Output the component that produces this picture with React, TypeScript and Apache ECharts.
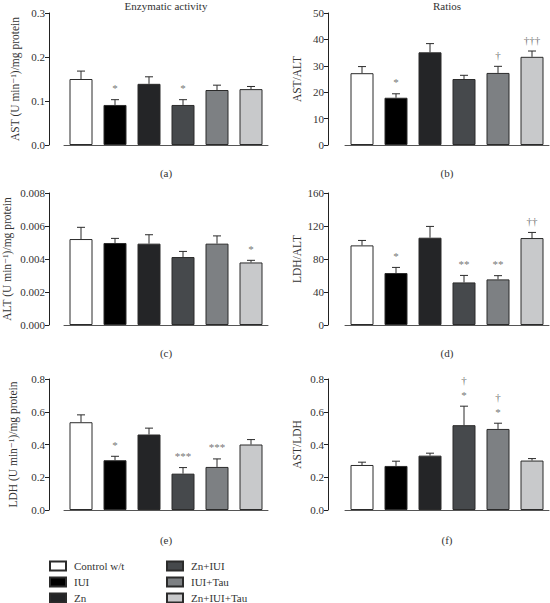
import React, { useEffect, useRef } from "react";
import * as echarts from "echarts";

const groups = ["Control w/t", "IUI", "Zn", "Zn+IUI", "IUI+Tau", "Zn+IUI+Tau"];
const groupColors = ["#ffffff", "#000000", "#242527", "#46494c", "#7d8083", "#c8c9cb"];

// (a) AST
const astMean = [0.15, 0.091, 0.139, 0.091, 0.125, 0.127];
const astSem = [0.018, 0.012, 0.016, 0.012, 0.011, 0.006];
const astMarks = ["", "*", "", "*", "", ""];
// (b) AST/ALT
const astAltMean = [27.2, 17.9, 35.1, 25.0, 27.3, 33.4];
const astAltSem = [2.5, 1.5, 3.3, 1.4, 2.5, 2.2];
const astAltMarks = ["", "*", "", "", "†", "†††"];
// (c) ALT
const altMean = [0.00521, 0.00497, 0.00493, 0.00412, 0.00493, 0.00379];
const altSem = [0.00071, 0.00028, 0.00054, 0.00034, 0.00047, 0.00013];
const altMarks = ["", "", "", "", "", "*"];
// (d) LDH/ALT
const ldhAltMean = [96.5, 63, 105.8, 51.6, 55.3, 105.4];
const ldhAltSem = [6, 6.8, 13.7, 8.5, 4.5, 6.8];
const ldhAltMarks = ["", "*", "", "**", "**", "††"];
// (e) LDH
const ldhMean = [0.536, 0.304, 0.461, 0.222, 0.263, 0.4];
const ldhSem = [0.045, 0.024, 0.039, 0.037, 0.049, 0.03];
const ldhMarks = ["", "*", "", "***", "***", ""];
// (f) AST/LDH
const astLdhMean = [0.275, 0.269, 0.332, 0.518, 0.495, 0.302];
const astLdhSem = [0.017, 0.029, 0.015, 0.116, 0.035, 0.012];
const astLdhMarks = ["", "", "", "†\n*", "†\n*", ""];

const FONT = "Liberation Serif, DejaVu Serif, serif";
const TXT = "#333";
const MARK = "#777";

type Panel = {
  mean: number[];
  sem: number[];
  marks: string[];
  max: number;
  interval: number;
  digits: number;
  yName: string;
  xName: string;
  left: number;
  top: number;
  height: number;
  yOffset: number;
  xOffset: number;
  yNameGap: number;
};

const panels: Panel[] = [
  { mean: astMean, sem: astSem, marks: astMarks, max: 0.3, interval: 0.1, digits: 1, yName: "AST (U min⁻¹)/mg protein", xName: "(a)", left: 64, top: 13, height: 132, yOffset: 15, xOffset: 14, yNameGap: 28 },
  { mean: astAltMean, sem: astAltSem, marks: astAltMarks, max: 50, interval: 10, digits: 0, yName: "AST/ALT", xName: "(b)", left: 345, top: 13, height: 132, yOffset: 17, xOffset: 14, yNameGap: 25 },
  { mean: altMean, sem: altSem, marks: altMarks, max: 0.008, interval: 0.002, digits: 3, yName: "ALT (U min⁻¹)/mg protein", xName: "(c)", left: 64, top: 193, height: 132, yOffset: 15, xOffset: 14, yNameGap: 36 },
  { mean: ldhAltMean, sem: ldhAltSem, marks: ldhAltMarks, max: 160, interval: 40, digits: 0, yName: "LDH/ALT", xName: "(d)", left: 345, top: 193, height: 132, yOffset: 17, xOffset: 14, yNameGap: 25 },
  { mean: ldhMean, sem: ldhSem, marks: ldhMarks, max: 0.8, interval: 0.2, digits: 1, yName: "LDH (U min⁻¹)/mg protein", xName: "(e)", left: 64, top: 379, height: 131, yOffset: 15, xOffset: 16, yNameGap: 30 },
  { mean: astLdhMean, sem: astLdhSem, marks: astLdhMarks, max: 0.8, interval: 0.2, digits: 1, yName: "AST/LDH", xName: "(f)", left: 345, top: 379, height: 131, yOffset: 17, xOffset: 16, yNameGap: 25 },
];

export default function App() {
  const ref = useRef<HTMLDivElement>(null);
  useEffect(() => {
    if (!ref.current) return;
    const chart = echarts.init(ref.current, null, { renderer: "svg" });

    const grids: any[] = [];
    const xAxes: any[] = [];
    const yAxes: any[] = [];
    const series: any[] = [];

    panels.forEach((p, k) => {
      grids.push({ left: p.left, top: p.top, width: 204, height: p.height });
      xAxes.push({
        gridIndex: k,
        type: "category",
        data: groups,
        offset: p.xOffset,
        axisLine: { lineStyle: { color: "#555", width: 1 } },
        axisTick: { alignWithLabel: true, length: 4, lineStyle: { color: "#555" } },
        axisLabel: { show: false },
        name: p.xName,
        nameLocation: "middle",
        nameGap: 8,
        nameTextStyle: { fontFamily: FONT, fontSize: 11, color: TXT, verticalAlign: "top" },
      });
      yAxes.push({
        gridIndex: k,
        type: "value",
        min: 0,
        max: p.max,
        interval: p.interval,
        offset: p.yOffset,
        splitLine: { show: false },
        axisLine: { show: true, lineStyle: { color: "#222", width: 1 } },
        axisTick: { show: true, length: 4, lineStyle: { color: "#222" } },
        axisLabel: {
          fontFamily: FONT,
          fontSize: 11,
          color: TXT,
          margin: 4,
          formatter: (v: number) => v.toFixed(p.digits),
        },
        name: p.yName,
        nameLocation: "middle",
        nameRotate: 90,
        nameGap: p.yNameGap,
        nameTextStyle: { fontFamily: FONT, fontSize: 11.5, color: TXT },
      });
      series.push({
        type: "bar",
        xAxisIndex: k,
        yAxisIndex: k,
        barWidth: 23,
        data: p.mean.map((v, i) => ({
          value: v,
          itemStyle: { color: groupColors[i], borderColor: "#2b2b2b", borderWidth: 1 },
        })),
      });
      series.push({
        type: "custom",
        xAxisIndex: k,
        yAxisIndex: k,
        clip: false,
        z: 5,
        itemStyle: { color: MARK },
        data: p.mean.map((v, i) => [i, v, v + p.sem[i]]),
        renderItem: (params: any, api: any) => {
          const i = api.value(0);
          const base = api.coord([i, api.value(1)]);
          const top = api.coord([i, api.value(2)]);
          const children: any[] = [
            { type: "line", shape: { x1: top[0], y1: base[1], x2: top[0], y2: top[1] }, style: { stroke: "#2b2b2b", lineWidth: 1 } },
            { type: "line", shape: { x1: top[0] - 4, y1: top[1], x2: top[0] + 4, y2: top[1] }, style: { stroke: "#2b2b2b", lineWidth: 1 } },
          ];
          const m = p.marks[i];
          if (m) {
            children.push({
              type: "text",
              x: top[0],
              y: top[1] - 4,
              style: {
                text: m,
                align: "center",
                verticalAlign: "bottom",
                fill: MARK,
                fontFamily: FONT,
                fontSize: 11,
                lineHeight: 15,
              },
            });
          }
          return { type: "group", children };
        },
      });
    });

    // hidden grid for legend entries
    grids.push({ left: 0, top: 0, width: 1, height: 1, show: false });
    xAxes.push({ gridIndex: 6, type: "category", show: false, data: ["x"] });
    yAxes.push({ gridIndex: 6, type: "value", show: false });
    groups.forEach((g, i) => {
      series.push({
        type: "bar",
        name: g,
        xAxisIndex: 6,
        yAxisIndex: 6,
        data: [],
        itemStyle: { color: groupColors[i], borderColor: "#2b2b2b", borderWidth: 1 },
      });
    });

    const legendCommon = {
      orient: "vertical",
      top: 560,
      height: 60,
      itemWidth: 16,
      itemHeight: 9,
      itemGap: 4,
      icon: "rect",
      selectedMode: false,
      padding: 0,
      textStyle: { fontFamily: FONT, fontSize: 11, lineHeight: 12, color: TXT, padding: [0, 0, 0, 3] },
    };

    chart.setOption({
      animation: false,
      backgroundColor: "#ffffff",
      title: [
        { text: "Enzymatic activity", left: 166, top: 0, textAlign: "center", padding: 0, textStyle: { fontFamily: FONT, fontSize: 11, fontWeight: "normal", color: TXT } },
        { text: "Ratios", left: 447, top: 0, textAlign: "center", padding: 0, textStyle: { fontFamily: FONT, fontSize: 11, fontWeight: "normal", color: TXT } },
      ],
      legend: [
        { ...legendCommon, left: 49, data: groups.slice(0, 3) },
        { ...legendCommon, left: 166, data: groups.slice(3, 6) },
      ],
      grid: grids,
      xAxis: xAxes,
      yAxis: yAxes,
      series,
    });

    return () => chart.dispose();
  }, []);

  return (
    <div
      ref={ref}
      style={{ position: "absolute", left: 0, top: 0, width: 550, height: 603 }}
    />
  );
}
